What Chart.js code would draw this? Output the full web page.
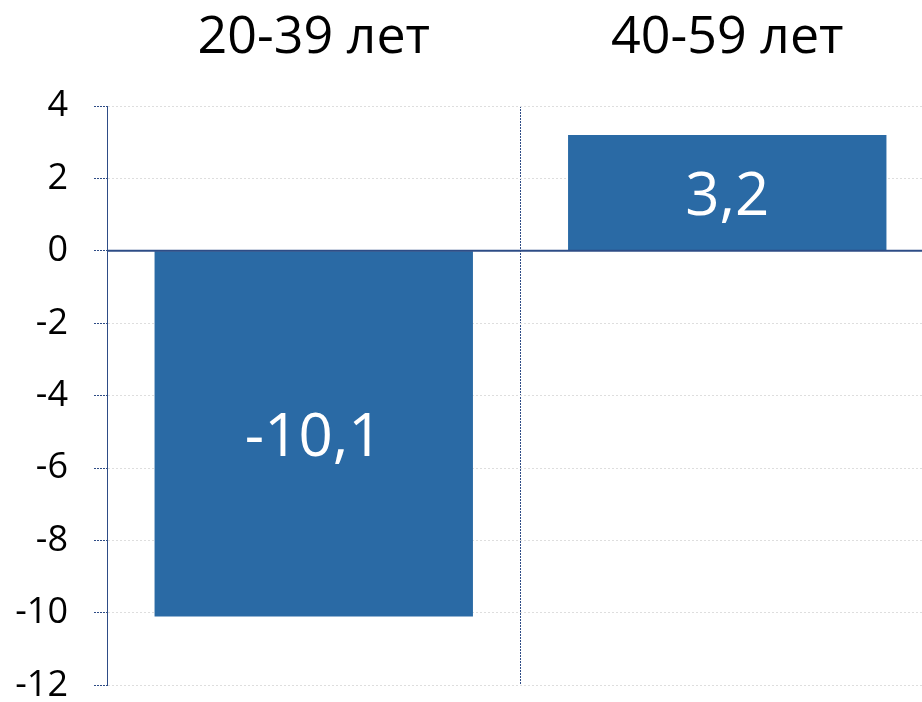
<!DOCTYPE html>
<html>
<head>
<meta charset="utf-8">
<script src="https://cdn.jsdelivr.net/npm/chart.js@4"></script>
<style>
  html, body { margin: 0; padding: 0; background: #fff; overflow: hidden; }
  #wrap { width: 934px; height: 733px; }
</style>
</head>
<body>
<div id="wrap"><canvas id="chart"></canvas></div>
<script>
// Chart data
const categories = ['20-39 лет', '40-59 лет'];
const values = [-10.1, 3.2];
const valueLabels = ['-10,1', '3,2'];
const yTicks = [4, 2, 0, -2, -4, -6, -8, -10, -12];

const BAR = '#2A6AA5';
const AXIS = '#2E4C86';
const FONT = "'Open Sans', 'Noto Sans', sans-serif";

// White value labels in the middle of each bar + solid zero line
const barLabels = {
  id: 'barLabels',
  afterDatasetsDraw(chart) {
    const ctx = chart.ctx;
    const y = chart.scales.y;
    const area = chart.chartArea;
    const zero = y.getPixelForValue(0);

    ctx.save();
    ctx.strokeStyle = AXIS;
    ctx.lineWidth = 2;
    ctx.beginPath();
    ctx.moveTo(area.left, zero);
    ctx.lineTo(area.right, zero);
    ctx.stroke();

    ctx.fillStyle = '#fff';
    ctx.font = '60px ' + FONT;
    ctx.textAlign = 'center';
    ctx.textBaseline = 'alphabetic';
    chart.getDatasetMeta(0).data.forEach((bar, i) => {
      const mid = (bar.y + bar.base) / 2;
      ctx.fillText(valueLabels[i], bar.x, mid + 22);
    });
    ctx.restore();
  }
};

new Chart(document.getElementById('chart'), {
  type: 'bar',
  data: {
    labels: categories,
    datasets: [{
      data: values,
      backgroundColor: BAR,
      borderWidth: 0,
      barPercentage: 0.77,
      categoryPercentage: 1
    }]
  },
  options: {
    responsive: true,
    maintainAspectRatio: false,
    animation: false,
    layout: { padding: { top: 0, right: 0, bottom: 17, left: 0 } },
    plugins: {
      legend: { display: false },
      tooltip: { enabled: false }
    },
    scales: {
      x: {
        position: 'top',
        grid: {
          offset: true,
          drawTicks: false,
          color: AXIS,
          lineWidth: 1
        },
        border: { display: false, dash: [2, 1] },
        ticks: {
          color: '#000',
          padding: 37,
          font: { family: FONT, size: 52 }
        },
        afterFit(scale) { scale.height = 106; }
      },
      y: {
        min: -12,
        max: 4,
        afterBuildTicks(scale) {
          scale.ticks = yTicks.map(v => ({ value: v }));
        },
        grid: {
          color: '#DEDEDE',
          lineWidth: 1,
          tickLength: 13,
          tickColor: AXIS,
          tickBorderDash: [2, 1]
        },
        border: { display: true, color: AXIS, width: 1, dash: [2, 2] },
        ticks: {
          color: '#000',
          padding: 26,
          font: { family: FONT, size: 36 }
        },
        afterFit(scale) { scale.width = 107; }
      }
    }
  },
  plugins: [barLabels]
});
</script>
</body>
</html>
